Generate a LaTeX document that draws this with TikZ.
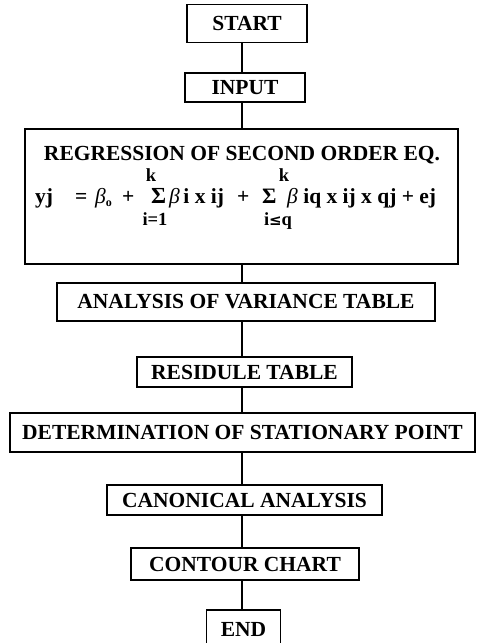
\documentclass[tikz,border=0pt]{standalone}
\usepackage{fontspec}
\setmainfont{Liberation Serif}
\newfontfamily\symfont{DejaVu Sans}
\begin{document}
\begin{tikzpicture}[x=1pt,y=-1pt,
  txt/.style={inner sep=0pt, font=\fontsize{21.5}{24}\selectfont\bfseries},
  box/.style={txt, draw, line width=1.3pt},
  eqtxt/.style={txt, anchor=base west},
  lim/.style={inner sep=0pt, font=\fontsize{18.5}{21}\selectfont\bfseries, anchor=base},
  link/.style={line width=1.3pt}]
\useasboundingbox (0,0) rectangle (481,643);
\clip (0,0) rectangle (481,643);
\coordinate (spine) at (242,0);
% boxes: centre and size from corners
\node[box, minimum width=120pt, minimum height=38pt] (start) at (247,23.5) {START};
\node[box, minimum width=120pt, minimum height=29pt] (input) at (245,87.5) {INPUT};
\node[box, minimum width=433pt, minimum height=135pt] (reg) at (241.5,196.5) {};
\node[box, minimum width=378pt, minimum height=38pt] (anova) at (246,302) {ANALYSIS OF VARIANCE TABLE};
\node[box, minimum width=215pt, minimum height=30pt] (resid) at (244.5,372) {RESIDULE TABLE};
\node[box, minimum width=465pt, minimum height=39pt] (determ) at (242.5,432.5) {DETERMINATION OF STATIONARY POINT};
\node[box, minimum width=275pt, minimum height=30pt] (canon) at (244.5,500) {CANONICAL ANALYSIS};
\node[box, minimum width=228pt, minimum height=32pt] (contour) at (245,564) {CONTOUR CHART};
\node[box, minimum width=74pt, minimum height=44pt] (end) at (243.5,632) {};
\node[txt] (endtxt) at (243.5,629) {END};
% contents of regression box
\node[txt, anchor=base] (regtitle) at (242,160) {REGRESSION OF SECOND ORDER EQ.};
\node[eqtxt] (yj) at (35,203) {yj};
\node[eqtxt] (eqs) at (75,203) {=};
\node[eqtxt] (b0) at (95,203) {\textit{\mdseries β}\textsubscript{\fontsize{12}{13}\selectfont o}};
\node[eqtxt] (plus1) at (122,203) {+};
\node[eqtxt, font=\fontsize{23}{25}\selectfont\bfseries] (sig1) at (151,203) {Σ};
\node[eqtxt] (termB) at (169,203) {\textit{\mdseries β}\,i x ij};
\node[eqtxt] (plus2) at (237,203) {+};
\node[eqtxt, font=\fontsize{22}{24}\selectfont\bfseries] (sig2) at (262,203) {Σ};
\node[eqtxt] (termC) at (287,203) {\textit{\mdseries β}\ iq x ij x qj + ej};
\node[lim] (k1) at (151,181) {k};
\node[lim] (k2) at (284,181) {k};
\node[lim] (low1) at (155,225) {i=1};
\node[lim] (low2) at (278,225) {i{\symfont\fontsize{15}{17}\selectfont ≤}q};
% connectors
\draw[link] (start.south -| spine) -- (input.north -| spine);
\draw[link] (input.south -| spine) -- (reg.north -| spine);
\draw[link] (reg.south -| spine) -- (anova.north -| spine);
\draw[link] (anova.south -| spine) -- (resid.north -| spine);
\draw[link] (resid.south -| spine) -- (determ.north -| spine);
\draw[link] (determ.south -| spine) -- (canon.north -| spine);
\draw[link] (canon.south -| spine) -- (contour.north -| spine);
\draw[link] (contour.south -| spine) -- (end.north -| spine);
\end{tikzpicture}
\end{document}
